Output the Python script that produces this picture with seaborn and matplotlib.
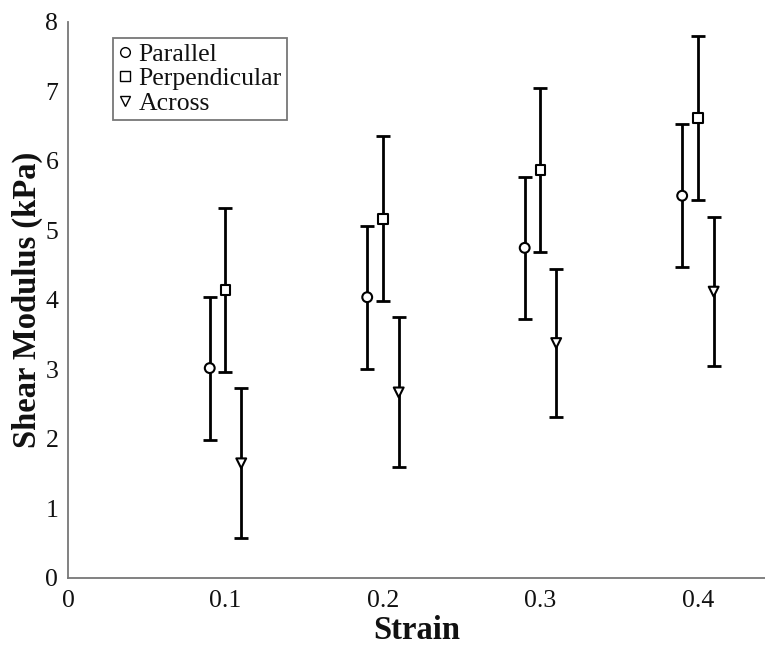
import matplotlib
matplotlib.use("Agg")
import matplotlib.pyplot as plt
import seaborn as sns
import pandas as pd
from matplotlib.lines import Line2D

strain_parallel = [0.09, 0.19, 0.29, 0.39]
strain_perp = [0.10, 0.20, 0.30, 0.40]
strain_across = [0.11, 0.21, 0.31, 0.41]

parallel_mean = [3.02, 4.04, 4.75, 5.50]
parallel_err = [1.03, 1.03, 1.02, 1.03]
perp_mean = [4.14, 5.17, 5.87, 6.62]
perp_err = [1.18, 1.19, 1.18, 1.18]
across_mean = [1.65, 2.67, 3.38, 4.12]
across_err = [1.08, 1.08, 1.07, 1.07]

series_names = ["Parallel", "Perpendicular", "Across"]
x_ticks = [0, 0.1, 0.2, 0.3, 0.4]
x_tick_labels = ["0", "0.1", "0.2", "0.3", "0.4"]
y_ticks = [0, 1, 2, 3, 4, 5, 6, 7, 8]

sns.set_style("white")
plt.rcParams['font.family'] = ['Liberation Serif', 'DejaVu Serif']
plt.rcParams['text.color'] = '#111111'
plt.rcParams['axes.labelcolor'] = '#111111'
plt.rcParams['xtick.color'] = '#111111'
plt.rcParams['ytick.color'] = '#111111'

df = pd.concat([
    pd.DataFrame({"Strain": strain_parallel, "Mod": parallel_mean, "err": parallel_err, "Group": "Parallel"}),
    pd.DataFrame({"Strain": strain_perp, "Mod": perp_mean, "err": perp_err, "Group": "Perpendicular"}),
    pd.DataFrame({"Strain": strain_across, "Mod": across_mean, "err": across_err, "Group": "Across"}),
], ignore_index=True)

fig = plt.figure(figsize=(7.65, 6.52), dpi=100)
ax = fig.add_axes([0.0889, 0.1135, 0.9111, 0.8528])

markers = {"Parallel": "o", "Perpendicular": "s", "Across": "v"}
for g, sub in df.groupby("Group", sort=False):
    ax.errorbar(sub["Strain"], sub["Mod"], yerr=sub["err"], fmt="none",
                ecolor="black", elinewidth=2.0, capsize=5, capthick=2.0, zorder=2)

sns.scatterplot(data=df, x="Strain", y="Mod", style="Group", markers=markers,
                style_order=series_names, s=50, facecolor="white", edgecolor="black",
                linewidth=1.5, legend=False, ax=ax, zorder=3)

ax.set_xlim(0, 0.4426)
ax.set_ylim(0, 8)
ax.set_xticks(x_ticks)
ax.set_xticklabels(x_tick_labels)
ax.set_yticks(y_ticks)
ax.tick_params(direction="in", length=6, width=1, labelsize=18.5)
ax.tick_params(axis="x", pad=9, color="#666666")
ax.tick_params(axis="y", pad=7, color="#666666")
for s in ["top", "right"]:
    ax.spines[s].set_visible(False)
for s in ["left", "bottom"]:
    ax.spines[s].set_color("#777777")
    ax.spines[s].set_linewidth(1.3)

ax.set_xlabel("Strain", fontsize=23.5, fontweight="bold", labelpad=2)
ax.set_ylabel("Shear Modulus (kPa)", fontsize=23.5, fontweight="bold", labelpad=2)

handles = [Line2D([], [], marker=markers[n], linestyle="none", markerfacecolor="white",
                  markeredgecolor="black", markersize=7, markeredgewidth=1.0) for n in series_names]
leg = ax.legend(handles, series_names, loc="upper left", bbox_to_anchor=(0.0646, 0.971),
                fontsize=18.5, frameon=True, fancybox=False, edgecolor="#555555",
                handlelength=0.5, handletextpad=0.3, borderpad=0.2, labelspacing=0.05,
                borderaxespad=0)
leg.get_frame().set_linewidth(1.3)

fig.savefig("out.png", dpi=100)
